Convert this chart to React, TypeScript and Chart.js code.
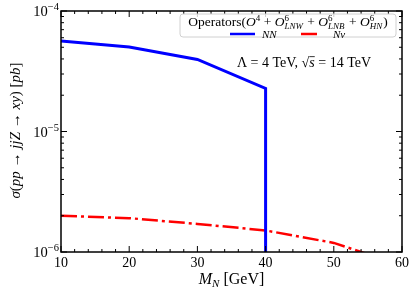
import React, { useEffect, useRef } from "react";
import { Chart, registerables } from "chart.js";

Chart.register(...registerables);

const massNN = [10, 20, 30, 40, 40];
const sigmaNN = [5.64e-5, 5.03e-5, 3.96e-5, 2.28e-5, 1e-8];
const massNnu = [10, 20, 30, 40, 50, 60];
const sigmaNnu = [2.0e-6, 1.91e-6, 1.71e-6, 1.51e-6, 1.19e-6, 0.77e-6];
const xTicks = [10, 20, 30, 40, 50, 60];
const yDecades = [-6, -5, -4];

const FONT = "'Liberation Serif', 'DejaVu Serif', serif";

type Seg = { t?: string; it?: boolean; s: number; dy?: number; sup?: string; sub?: string; over?: boolean };

function font(s: number, it?: boolean) {
  return `${it ? "italic " : ""}${s}px ${FONT}`;
}

function segWidth(ctx: CanvasRenderingContext2D, g: Seg) {
  if (g.sup !== undefined || g.sub !== undefined) {
    ctx.font = font(g.s, false);
    const a = g.sup ? ctx.measureText(g.sup).width : 0;
    ctx.font = font(g.s, true);
    const b = g.sub ? ctx.measureText(g.sub).width : 0;
    return Math.max(a, b) + 1;
  }
  ctx.font = font(g.s, g.it);
  return ctx.measureText(g.t || "").width;
}

function drawRich(ctx: CanvasRenderingContext2D, segs: Seg[], x: number, y: number, align: "left" | "center" | "right") {
  let total = 0;
  for (const g of segs) total += segWidth(ctx, g);
  let cx = align === "left" ? x : align === "center" ? x - total / 2 : x - total;
  ctx.textBaseline = "alphabetic";
  ctx.textAlign = "left";
  for (const g of segs) {
    const w = segWidth(ctx, g);
    if (g.sup !== undefined || g.sub !== undefined) {
      if (g.sup) {
        ctx.font = font(g.s, false);
        ctx.fillText(g.sup, cx, y - 5);
      }
      if (g.sub) {
        ctx.font = font(g.s, true);
        ctx.fillText(g.sub, cx, y + 3);
      }
    } else {
      ctx.font = font(g.s, g.it);
      ctx.fillText(g.t || "", cx, y + (g.dy || 0));
      if (g.over) {
        ctx.beginPath();
        ctx.lineWidth = 0.8;
        ctx.moveTo(cx, y - g.s * 0.74);
        ctx.lineTo(cx + w, y - g.s * 0.74);
        ctx.stroke();
      }
    }
    cx += w;
  }
}

const overlay = {
  id: "overlay",
  afterDraw(chart: any) {
    const ctx: CanvasRenderingContext2D = chart.ctx;
    const { left, right, top, bottom } = chart.chartArea;
    const xs = chart.scales.x;
    const ys = chart.scales.y;
    ctx.save();
    ctx.strokeStyle = "#000";
    ctx.fillStyle = "#000";
    // frame
    ctx.lineWidth = 1.5;
    ctx.strokeRect(left, top, right - left, bottom - top);
    ctx.lineWidth = 1;
    // x ticks
    for (let v = 10; v <= 60; v += 2) {
      const px = xs.getPixelForValue(v);
      const len = v % 10 === 0 ? 6 : 3;
      ctx.beginPath();
      ctx.moveTo(px, bottom);
      ctx.lineTo(px, bottom - len);
      ctx.moveTo(px, top);
      ctx.lineTo(px, top + len);
      ctx.stroke();
    }
    // y ticks
    for (const d of yDecades) {
      for (let m = 1; m <= 9; m++) {
        const v = m * Math.pow(10, d);
        if (v > 1.0001e-4) continue;
        const py = ys.getPixelForValue(v);
        const len = m === 1 ? 6 : 3;
        ctx.beginPath();
        ctx.moveTo(left, py);
        ctx.lineTo(left + len, py);
        ctx.moveTo(right, py);
        ctx.lineTo(right - len, py);
        ctx.stroke();
      }
    }
    // x tick labels
    ctx.font = font(14);
    ctx.textAlign = "center";
    ctx.textBaseline = "alphabetic";
    for (const v of xTicks) {
      ctx.fillText(String(v), xs.getPixelForValue(v), bottom + 15);
    }
    // y tick labels
    for (const d of yDecades) {
      const py = ys.getPixelForValue(Math.pow(10, d));
      drawRich(ctx, [{ t: "10", s: 14.5 }, { t: "\u2212" + String(-d), s: 10.5, dy: -6 }], left - 2, py + 5, "right");
    }
    // x label
    drawRich(ctx, [{ t: "M", it: true, s: 16 }, { t: "N", it: true, s: 11, dy: 3 }, { t: " [GeV]", s: 16 }], (left + right) / 2, bottom + 32, "center");
    // y label
    ctx.save();
    ctx.translate(20, (top + bottom) / 2 - 1);
    ctx.rotate(-Math.PI / 2);
    drawRich(ctx, [
      { t: "\u03c3", it: true, s: 15 },
      { t: "(", s: 15 },
      { t: "pp", it: true, s: 15 },
      { t: " \u2192 ", s: 15 },
      { t: "jjZ", it: true, s: 15 },
      { t: " \u2192 ", s: 15 },
      { t: "xy", it: true, s: 15 },
      { t: ") [", s: 15 },
      { t: "pb", it: true, s: 15 },
      { t: "]", s: 15 },
    ], 0, 0, "center");
    ctx.restore();
    // legend box
    const bx = 180, by = 14, bw = 216, bh = 23, r = 3;
    ctx.beginPath();
    ctx.moveTo(bx + r, by);
    ctx.arcTo(bx + bw, by, bx + bw, by + bh, r);
    ctx.arcTo(bx + bw, by + bh, bx, by + bh, r);
    ctx.arcTo(bx, by + bh, bx, by, r);
    ctx.arcTo(bx, by, bx + bw, by, r);
    ctx.closePath();
    ctx.fillStyle = "rgba(255,255,255,0.8)";
    ctx.fill();
    ctx.strokeStyle = "#d0d0d0";
    ctx.lineWidth = 1;
    ctx.stroke();
    ctx.fillStyle = "#000";
    ctx.strokeStyle = "#000";
    drawRich(ctx, [
      { t: "Operators(", s: 13.5 },
      { t: "O", it: true, s: 13.5 },
      { t: "4", s: 9, dy: -5 },
      { t: " + ", s: 13.5 },
      { t: "O", it: true, s: 13.5 },
      { sup: "6", sub: "LNW", s: 9 },
      { t: " + ", s: 13.5 },
      { t: "O", it: true, s: 13.5 },
      { sup: "6", sub: "LNB", s: 9 },
      { t: " + ", s: 13.5 },
      { t: "O", it: true, s: 13.5 },
      { sup: "6", sub: "HN", s: 9 },
      { t: ")", s: 13.5 },
    ], 288, 26, "center");
    // legend entries
    const ds = chart.data.datasets;
    const entries = [
      { x: 230, len: 25, label: "NN", d: ds[0] },
      { x: 301, len: 16, label: "N\u03bd", d: ds[1] },
    ];
    for (const e of entries) {
      ctx.save();
      ctx.strokeStyle = e.d.borderColor;
      ctx.lineWidth = 2.5;
      ctx.beginPath();
      ctx.moveTo(e.x, 34);
      ctx.lineTo(e.x + e.len, 34);
      ctx.stroke();
      ctx.restore();
      ctx.font = font(11, true);
      ctx.textAlign = "left";
      ctx.fillText(e.label, e.x + 32, 37.5);
    }
    // annotation
    drawRich(ctx, [
      { t: "\u039b = 4 TeV, ", s: 14 },
      { t: "\u221a", s: 14 },
      { t: "s", it: true, s: 14, over: true },
      { t: " = 14 TeV", s: 14 },
    ], 304, 67, "center");
    ctx.restore();
  },
};

export default function App() {
  const ref = useRef<HTMLCanvasElement>(null);
  useEffect(() => {
    if (!ref.current) return;
    const chart = new Chart(ref.current, {
      type: "line",
      data: {
        datasets: [
          {
            label: "NN",
            data: massNN.map((x, i) => ({ x, y: sigmaNN[i] })),
            borderColor: "#0000ff",
            borderWidth: 3,
            pointRadius: 0,
            tension: 0,
            fill: false,
          },
          {
            label: "N\u03bd",
            data: massNnu.map((x, i) => ({ x, y: sigmaNnu[i] })),
            borderColor: "#ff0000",
            borderWidth: 2.5,
            borderDash: [16, 4, 3, 4],
            pointRadius: 0,
            tension: 0,
            fill: false,
          },
        ],
      },
      options: {
        animation: false,
        responsive: false,
        devicePixelRatio: 1,
        layout: { padding: { left: 61, top: 11, right: 14, bottom: 39 } },
        plugins: { legend: { display: false }, tooltip: { enabled: false } },
        scales: {
          x: { type: "linear", min: 10, max: 60, display: false },
          y: { type: "logarithmic", min: 1e-6, max: 1e-4, display: false },
        },
      },
      plugins: [overlay],
    });
    return () => chart.destroy();
  }, []);
  return (
    <div style={{ position: "fixed", left: 0, top: 0, width: 416, height: 291, background: "#fff" }}>
      <canvas ref={ref} width={416} height={291} />
    </div>
  );
}
